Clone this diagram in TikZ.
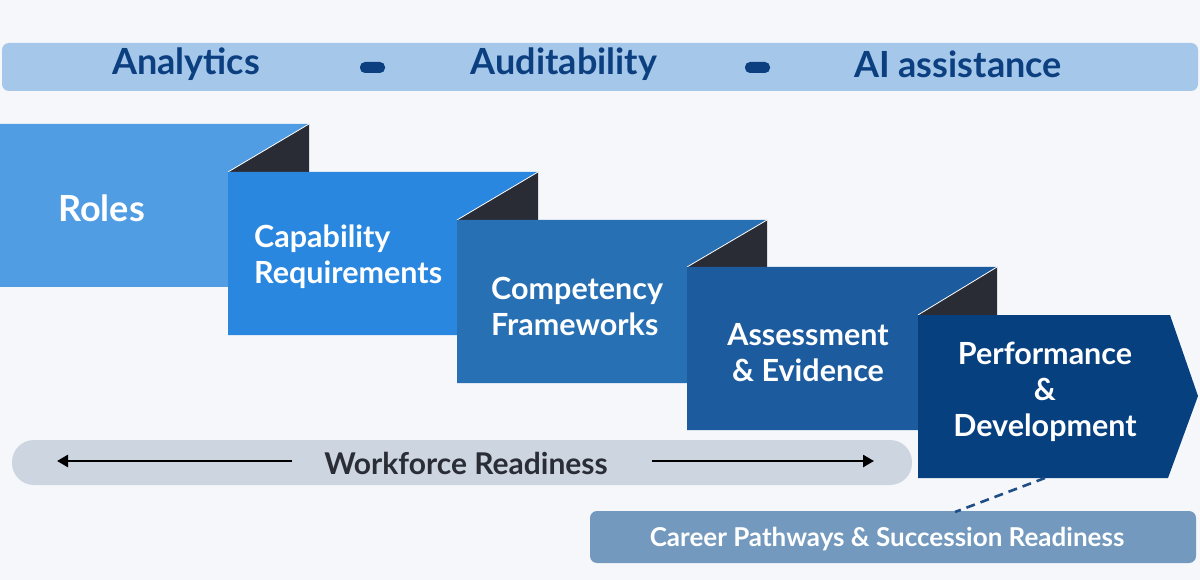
\documentclass[tikz,border=0pt]{standalone}
\usepackage{fontspec}
\setmainfont{Lato}
\usetikzlibrary{arrows.meta}
\definecolor{bgc}{HTML}{F5F7FB}
\definecolor{topbar}{HTML}{A5C7E9}
\definecolor{navy}{HTML}{0B3F80}
\definecolor{cRoles}{HTML}{509DE4}
\definecolor{cCap}{HTML}{2987DF}
\definecolor{cComp}{HTML}{2870B4}
\definecolor{cAss}{HTML}{1D5B9F}
\definecolor{cPerf}{HTML}{07407F}
\definecolor{fold}{HTML}{2A2C35}
\definecolor{wfbar}{HTML}{CDD5E1}
\definecolor{wftext}{HTML}{2A2D36}
\definecolor{career}{HTML}{7499BE}
\definecolor{dashc}{HTML}{1E4E86}
\tikzset{
  toptext/.style={text=navy, font=\bfseries\fontsize{36}{40}\selectfont, inner sep=0pt},
  blocktext/.style={text=white, font=\bfseries\fontsize{30.5}{36}\selectfont, inner sep=0pt},
  pill/.style={fill=navy, rounded corners=5pt},
  foldtri/.style={fill=fold},
  crease/.style={draw=white, line width=0.8pt},
  wfarrow/.style={draw=black, line width=2.6pt, -{Triangle[length=11pt,width=12pt]}}
}
\begin{document}
\begin{tikzpicture}[x=1pt,y=-1pt]
\useasboundingbox (0,0) rectangle (1200,580);
\fill[bgc] (0,0) rectangle (1200,580);
% top bar
\fill[topbar, rounded corners=7pt] (2,43) rectangle (1198,91);
\node[toptext] (analytics) at (186,64) {Analytics};
\node[toptext] (audit) at (564,64) {Auditability};
\node[toptext] (ai) at (958,64) {AI assistance};
\fill[pill] (360,62) rectangle (385,73);
\fill[pill] (745,62) rectangle (770,73);
% Roles
\fill[cRoles] (0,124) -- (309,124) -- (228,172) -- (228,287) -- (0,287) -- cycle;
\fill[foldtri] (228,172) -- (309,124) -- (309,172) -- cycle;
\draw[crease] (228,172) -- (309,124);
% Capability
\fill[cCap] (228,172) -- (538,172) -- (457,220) -- (457,335) -- (228,335) -- cycle;
\fill[foldtri] (457,220) -- (538,172) -- (538,220) -- cycle;
\draw[crease] (457,220) -- (538,172);
% Competency
\fill[cComp] (457,220) -- (767,220) -- (687,267) -- (687,383) -- (457,383) -- cycle;
\fill[foldtri] (687,267) -- (767,220) -- (767,267) -- cycle;
\draw[crease] (687,267) -- (767,220);
% Assessment
\fill[cAss] (687,267) -- (997,267) -- (918,315) -- (918,430) -- (687,430) -- cycle;
\fill[foldtri] (918,315) -- (997,267) -- (997,315) -- cycle;
\draw[crease] (918,315) -- (997,267);
% Performance
\fill[cPerf] (918,315) -- (1170,315) -- (1198,396) -- (1168,478) -- (918,478) -- cycle;
% block texts
\node[blocktext, anchor=west, font=\bfseries\fontsize{36}{40}\selectfont] (roles) at (58,208) {Roles};
\node[blocktext, anchor=west, align=left] (cap) at (254,257) {Capability\\Requirements};
\node[blocktext, anchor=west, align=left] (comp) at (491,306) {Competency\\Frameworks};
\node[blocktext, align=center] (ass) at (808,353) {Assessment\\\& Evidence};
\node[blocktext, align=center] (perf) at (1045,392) {Performance\\\&\\Development};
% workforce readiness bar
\fill[wfbar, rounded corners=22pt] (12,440) rectangle (912,485);
\node[text=wftext, font=\bfseries\fontsize{30}{34}\selectfont, inner sep=0pt] (wf) at (466,463) {Workforce Readiness};
\coordinate (la) at (292,461);
\coordinate (lb) at (57,461);
\coordinate (ra) at (652,461);
\coordinate (rb) at (874,461);
\draw[wfarrow] (la) -- (lb);
\draw[wfarrow] (ra) -- (rb);
% career
\fill[career, rounded corners=7pt] (590,511) rectangle (1196,563);
\node[text=white, font=\bfseries\fontsize{26}{30}\selectfont, inner sep=0pt] (car) at (887,539) {Career Pathways \& Succession Readiness};
\coordinate (da) at (1045,478);
\coordinate (db) at (955,512);
\draw[dashc, line width=2.6pt, dash pattern=on 9pt off 6pt] (da) -- (db);
\end{tikzpicture}
\end{document}
